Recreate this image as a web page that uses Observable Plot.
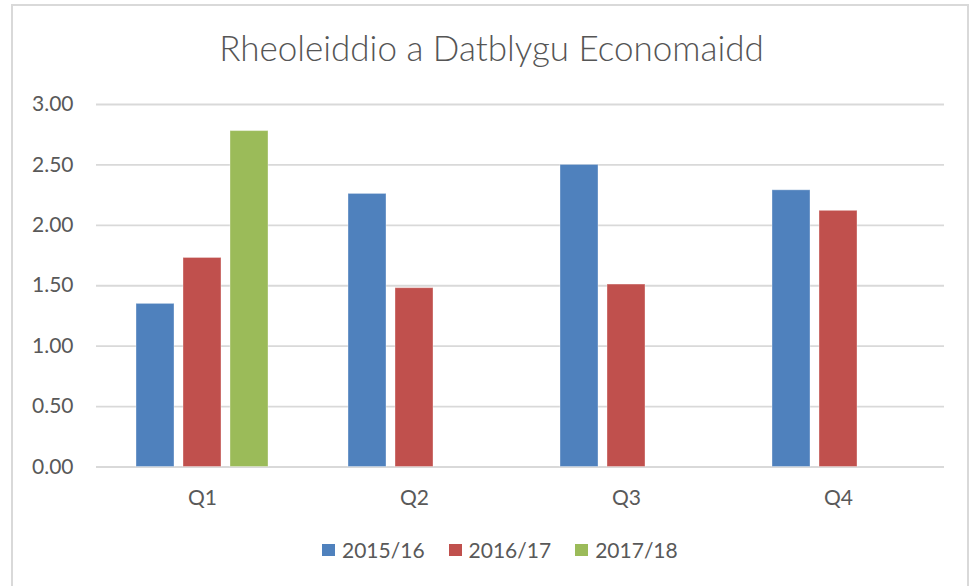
<!DOCTYPE html>
<html>
<head>
<meta charset="utf-8">
<script src="https://cdn.jsdelivr.net/npm/d3@7"></script>
<script src="https://cdn.jsdelivr.net/npm/@observablehq/plot@0.6"></script>
<style>
  html, body { margin: 0; padding: 0; background: #fff; overflow: hidden; }
  #wrap { position: relative; width: 974px; height: 586px; overflow: hidden; font-family: Lato, "Open Sans", sans-serif; color: #595959; }
  #frame { position: absolute; left: 11px; top: 4px; width: 958px; height: 620px; border: 2px solid #d9d9d9; box-sizing: border-box; }
  #title { position: absolute; left: 11px; width: 961px; top: 26px; text-align: center; font-size: 35px; font-weight: 300; line-height: normal; color: #555555; white-space: nowrap; }
  #chart { position: absolute; left: 0; top: 0; }
  #legend { position: absolute; left: 322px; top: 537px; display: flex; align-items: center; font-size: 21px; line-height: 26px; color: #595959; }
  .item { display: flex; align-items: center; margin-right: 24px; }
  .sw { width: 13px; height: 12px; margin-right: 7px; }
</style>
</head>
<body>
<div id="wrap">
  <div id="frame"></div>
  <div id="title"></div>
  <div id="chart"></div>
  <div id="legend"></div>
</div>
<script>
const titleText = "Rheoleiddio a Datblygu Economaidd";
const quarters = ["Q1", "Q2", "Q3", "Q4"];
const series = ["2015/16", "2016/17", "2017/18"];
const colors = ["#4F81BD", "#C0504D", "#9BBB59"];
const values2015 = [1.35, 2.26, 2.50, 2.29];
const values2016 = [1.73, 1.48, 1.51, 2.12];
const values2017 = [2.78, null, null, null];
const yTicks = [0, 0.5, 1, 1.5, 2, 2.5, 3];

const seriesValues = [values2015, values2016, values2017];
const data = [];
series.forEach((s, i) => {
  quarters.forEach((q, j) => {
    const v = seriesValues[i][j];
    if (v != null) data.push({quarter: q, series: s, value: v});
  });
});

document.getElementById("title").textContent = titleText;

const chart = Plot.plot({
  width: 974,
  height: 520,
  marginLeft: 96,
  marginRight: 30,
  marginTop: 104,
  marginBottom: 53.5,
  style: {fontFamily: "Lato, 'Open Sans', sans-serif", fontSize: "21px", color: "#595959", background: "transparent"},
  fx: {domain: quarters, padding: 0, label: null, tickSize: 0, tickPadding: 23.5, axis: "bottom"},
  x: {domain: series, axis: null, paddingInner: 0.2, paddingOuter: 0.83},
  y: {domain: [0, 3], ticks: yTicks, tickFormat: d3.format(".2f"), tickSize: 0, tickPadding: 23, label: null},
  color: {domain: series, range: colors},
  marks: [
    Plot.ruleY(yTicks, {stroke: "#d9d9d9", strokeWidth: 1.8}),
    Plot.barY(data, {fx: "quarter", x: "series", y: "value", fill: "series", stroke: "#ffffff", strokeOpacity: 0.35, strokeWidth: 1})
  ]
});
document.getElementById("chart").appendChild(chart);

const legend = document.getElementById("legend");
series.forEach((s, i) => {
  const item = document.createElement("div");
  item.className = "item";
  const sw = document.createElement("div");
  sw.className = "sw";
  sw.style.background = colors[i];
  const t = document.createElement("span");
  t.textContent = s;
  item.appendChild(sw);
  item.appendChild(t);
  legend.appendChild(item);
});
</script>
</body>
</html>
